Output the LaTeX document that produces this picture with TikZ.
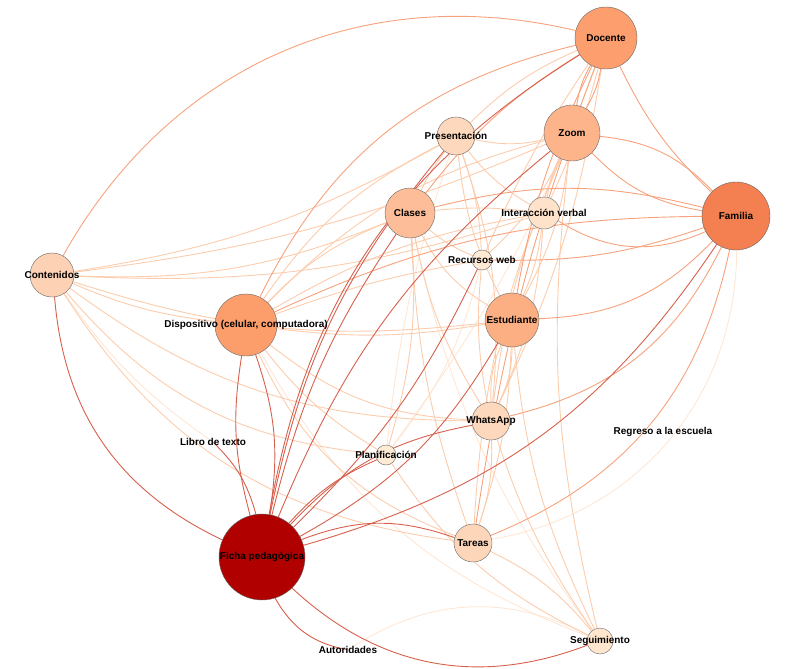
\documentclass[tikz,border=0pt]{standalone}
\usepackage{fontspec}
\setmainfont{Liberation Sans}
\usetikzlibrary{backgrounds}
\definecolor{cFicha}{HTML}{B00000}
\definecolor{cFam}{HTML}{F47F51}
\definecolor{cDoc}{HTML}{FC9E6E}
\definecolor{cDisp}{HTML}{FC9D6C}
\definecolor{cZoom}{HTML}{FDB48B}
\definecolor{cEst}{HTML}{FDAF84}
\definecolor{cClas}{HTML}{FDBD98}
\definecolor{cCont}{HTML}{FDD1B4}
\definecolor{cPres}{HTML}{FDD8BD}
\definecolor{cTar}{HTML}{FDD6BA}
\definecolor{cInter}{HTML}{FEE2C9}
\definecolor{cRec}{HTML}{FEEBD6}
\definecolor{cSeg}{HTML}{FEE5CD}
\definecolor{eLight}{HTML}{FEE7D5}
\definecolor{eSoft}{HTML}{FCCCAC}
\definecolor{eMid}{HTML}{F7A27C}
\definecolor{eRed}{HTML}{D6604D}
\tikzset{
	x=1bp, y=1bp,
	hub/.style={
		circle,
		draw=black!60, thin,
		inner sep=0pt},
	dot/.style={
		circle,
		inner sep=0pt,
		minimum size=1bp},
	every label/.style={
		inner sep=0pt,
		font=\bfseries\fontsize{10}{12}\selectfont},
	eA/.style={draw=eLight, line width=0.9bp},
	eB/.style={draw=eSoft, line width=0.9bp},
	eC/.style={draw=eMid, line width=0.9bp},
	eD/.style={draw=eRed, line width=0.9bp},
}
\begin{document}
\begin{tikzpicture}
	\useasboundingbox (0,0) rectangle (800,-669);
	\node[hub, fill=cDoc, minimum size=62bp, label=center:Docente] (doc) at (606,-38) {};
	\node[hub, fill=cZoom, minimum size=56bp, label=center:Zoom] (zoom) at (572,-133) {};
	\node[hub, fill=cPres, minimum size=38bp, label=center:Presentación] (pres) at (456,-136) {};
	\node[hub, fill=cClas, minimum size=50bp, label=center:Clases] (clas) at (410,-213) {};
	\node[hub, fill=cInter, minimum size=32bp, label=center:Interacción verbal] (inter) at (544,-213) {};
	\node[hub, fill=cFam, minimum size=68bp, label=center:Familia] (fam) at (736,-216) {};
	\node[hub, fill=cRec, minimum size=20bp, label=center:Recursos web] (rec) at (482,-260) {};
	\node[hub, fill=cCont, minimum size=44bp, label=center:Contenidos] (cont) at (52,-275) {};
	\node[hub, fill=cDisp, minimum size=62bp, label=center:{Dispositivo (celular, computadora)}] (disp) at (246,-325) {};
	\node[hub, fill=cEst, minimum size=54bp, label=center:Estudiante] (est) at (512,-320) {};
	\node[hub, fill=cPres, minimum size=38bp, label=center:WhatsApp] (whats) at (491,-421) {};
	\node[dot, label=center:Libro de texto] (libro) at (213,-442) {};
	\node[hub, fill=cRec, minimum size=20bp, label=center:Planificación] (plan) at (386,-455) {};
	\node[dot, label=center:Regreso a la escuela] (regreso) at (663,-432) {};
	\node[hub, fill=cFicha, minimum size=86bp, label=center:Ficha pedagógica] (ficha) at (262,-557) {};
	\node[hub, fill=cTar, minimum size=38bp, label=center:Tareas] (tareas) at (473,-543) {};
	\node[hub, fill=cSeg, minimum size=26bp, label=center:Seguimiento] (seg) at (600,-641) {};
	\node[dot, label=center:Autoridades] (aut) at (348,-650) {};

	\begin{pgfonlayer}{background}
	% faint links
	\foreach \a/\b/\k in {aut/seg/30, doc/plan/8, clas/seg/-12, tareas/fam/-40, cont/libro/-10,
		rec/plan/12, disp/seg/-20, pres/plan/-6}
		\draw[eA] (\a) to[bend left=\k] (\b);
	% light links
	\foreach \a/\b/\k in {cont/clas/-12, cont/pres/-10, cont/zoom/-8, cont/disp/-8, cont/est/-12,
		cont/whats/-18, cont/plan/-22, cont/tareas/-25, cont/inter/-10,
		disp/clas/12, disp/pres/14, disp/zoom/15, disp/inter/10, disp/est/-8, disp/whats/-18,
		disp/tareas/-22, disp/rec/5, disp/plan/-10,
		clas/inter/6, clas/est/-15, clas/whats/-10, clas/rec/-8, clas/pres/5, clas/tareas/-8, clas/plan/10,
		pres/zoom/-12, pres/inter/-10, pres/est/-10, pres/rec/8, pres/whats/12,
		zoom/inter/-8, zoom/est/10, zoom/whats/-8, zoom/rec/10, zoom/tareas/-10, zoom/seg/-10,
		inter/est/8, inter/whats/10, est/whats/12, est/whats/-12, est/tareas/8, est/seg/-10,
		whats/tareas/10, whats/seg/-8, tareas/seg/12, plan/seg/-15, rec/whats/-8,
		doc/pres/-10, doc/inter/5, doc/whats/8, doc/rec/-5}
		\draw[eB] (\a) to[bend left=\k] (\b);
	% medium links
	\foreach \a/\b/\k in {cont/doc/37, disp/doc/25, doc/fam/-10, zoom/fam/20, zoom/fam/-18,
		clas/fam/14, disp/fam/12, inter/fam/-28, rec/fam/-10, est/fam/-22, whats/fam/-25,
		tareas/fam/-28, doc/zoom/10, doc/zoom/-10, doc/clas/-10, doc/est/-8, doc/tareas/-6}
		\draw[eC] (\a) to[bend left=\k] (\b);
	% strong links
	\foreach \a/\b/\k in {ficha/cont/30, ficha/doc/24, ficha/pres/14, ficha/clas/10, ficha/zoom/14,
		disp/ficha/-12, disp/ficha/14, libro/ficha/15, ficha/plan/12, ficha/whats/18, ficha/est/-15,
		ficha/rec/-10, ficha/fam/-20, ficha/tareas/20, ficha/seg/-32, ficha/aut/-25}
		\draw[eD] (\a) to[bend left=\k] (\b);
	\end{pgfonlayer}
\end{tikzpicture}
\end{document}
